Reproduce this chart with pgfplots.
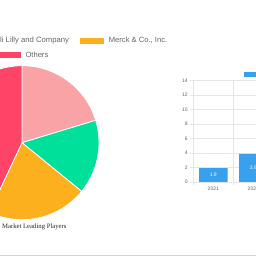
\documentclass[border=0pt]{standalone}
\usepackage{pgfplots}
\pgfplotsset{compat=1.18}
\usepackage{pgfplotstable}
\usepackage{fontspec}
\setmainfont{Liberation Serif}
\newfontfamily\arial{Liberation Sans}
\definecolor{piepink}{HTML}{F9A3A6}
\definecolor{piegreen}{HTML}{00E09A}
\definecolor{pieorange}{HTML}{FDB01E}
\definecolor{piered}{HTML}{FF4468}
\definecolor{barblue}{HTML}{38A0EC}
\definecolor{txtgray}{HTML}{666666}
\definecolor{gridgray}{HTML}{E6E6E6}

\pgfplotstableread{
name pct
NovoNordisk 20.3
EliLilly 15.6
Merck 21.1
Others 43.0
}\piedata

\pgfplotstableread{
idx year value
0 2021 1.9
1 2022 3.9
}\bardata

\begin{document}
\begin{tikzpicture}
\path[use as bounding box] (0pt,0pt) rectangle (256pt,256pt);
\fill[white] (0pt,0pt) rectangle (256pt,256pt);
\clip (0pt,0pt) rectangle (256pt,256pt);

% pie angles from the table
\pgfplotstablegetelem{0}{pct}\of\piedata \let\pA\pgfplotsretval
\pgfplotstablegetelem{1}{pct}\of\piedata \let\pB\pgfplotsretval
\pgfplotstablegetelem{2}{pct}\of\piedata \let\pC\pgfplotsretval
\pgfplotstablegetelem{3}{pct}\of\piedata \let\pD\pgfplotsretval
\pgfmathsetmacro\aA{90}
\pgfmathsetmacro\aB{\aA-3.6*\pA}
\pgfmathsetmacro\aC{\aB-3.6*\pB}
\pgfmathsetmacro\aD{\aC-3.6*\pC}
\pgfmathsetmacro\aE{\aD-3.6*\pD}

\begin{axis}[
  at={(22pt,113.3pt)}, anchor=center,
  x=1pt, y=1pt, xmin=-80, xmax=80, ymin=-80, ymax=80,
  hide axis, clip=false, scale only axis,
]
\fill[piepink, draw=white, line width=0.8pt] (axis cs:0,0) -- ++(\aA:77pt) arc[start angle=\aA, end angle=\aB, radius=77pt] -- cycle;
\fill[piegreen, draw=white, line width=0.8pt] (axis cs:0,0) -- ++(\aB:77pt) arc[start angle=\aB, end angle=\aC, radius=77pt] -- cycle;
\fill[pieorange, draw=white, line width=0.8pt] (axis cs:0,0) -- ++(\aC:77pt) arc[start angle=\aC, end angle=\aD, radius=77pt] -- cycle;
\fill[piered, draw=white, line width=0.8pt] (axis cs:0,0) -- ++(\aD:77pt) arc[start angle=\aD, end angle=\aE, radius=77pt] -- cycle;
\end{axis}

% pie legend
\fill[piepink] (-130pt,212pt) rectangle (-106pt,218.3pt);
\fill[piegreen] (-33pt,212pt) rectangle (-9pt,218.3pt);
\node[anchor=east, inner sep=0, text=txtgray, font=\arial\fontsize{7.7}{8}\selectfont] at (69.3pt,215.3pt) {Eli Lilly and Company};
\fill[pieorange] (80pt,212pt) rectangle (104pt,218.3pt);
\node[anchor=west, inner sep=0, text=txtgray, font=\arial\fontsize{7.6}{8}\selectfont] at (108.7pt,215.3pt) {Merck \& Co., Inc.};
\fill[piered] (-3.3pt,198.3pt) rectangle (20.7pt,204.3pt);
\node[anchor=west, inner sep=0, text=txtgray, font=\arial\fontsize{7.6}{8}\selectfont] at (25.3pt,201.3pt) {Others};

% title
\node[anchor=east, inner sep=0, text=black!85, font=\fontsize{6.7}{8}\selectfont] at (66.7pt,29.3pt) {Obesity Drugs Market: Market Leading Players};

% bottom rule
\draw[gray!35, line width=0.8pt] (0pt,1pt) -- (256pt,1pt);

% bar chart
\begin{axis}[
  at={(193.3pt,74pt)}, anchor=south west,
  x=40pt, y=7.236pt, xmin=-0.5, xmax=12.5, ymin=0, ymax=14,
  scale only axis, clip=false,
  axis x line=bottom, axis y line=left,
  axis line style={gridgray, line width=0.6pt, -},
  ybar, bar width=28.4pt,
  xtick={0,1,...,12},
  xticklabels={2021,2022,2023,2024,2025,2026,2027,2028,2029,2030,2031,2032,2033},
  major x tick style={draw=none},
  minor xtick={-0.5,0.5,...,12.5},
  xminorgrids, minor tick length=3pt,
  ytick={0,2,...,14}, ymajorgrids,
  major tick length=3pt, tick align=outside,
  tick style={gridgray, line width=0.6pt},
  grid style={gridgray, line width=0.6pt},
  /pgf/number format/assume math mode=true,
  tick label style={font=\arial\fontsize{5}{6}\selectfont, text=txtgray},
  yticklabel style={xshift=0.8pt},
  xticklabel style={yshift=1.5pt},
  legend style={at={(0.0962,1.064)}, anchor=west, draw=none, fill=none, inner sep=0pt,
     font=\arial\fontsize{7.4}{8}\selectfont, text=txtgray},
  legend image code/.code={\fill[barblue] (0pt,-2.5pt) rectangle (24pt,2.5pt);},
]
\addplot[fill=barblue, draw=none,
  visualization depends on={rawy/2 \as \halfy},
  nodes near coords,
  nodes near coords style={anchor=center, text=white, font=\arial\fontsize{5}{6}\selectfont,
     yshift=-\halfy*7.236pt, /pgf/number format/fixed, /pgf/number format/precision=1,
     /pgf/number format/fixed zerofill, /pgf/number format/assume math mode=true},
] table[x=idx, y=value] {\bardata};
\addlegendentry{Market Size (USD Billion)}
\end{axis}
\end{tikzpicture}
\end{document}
